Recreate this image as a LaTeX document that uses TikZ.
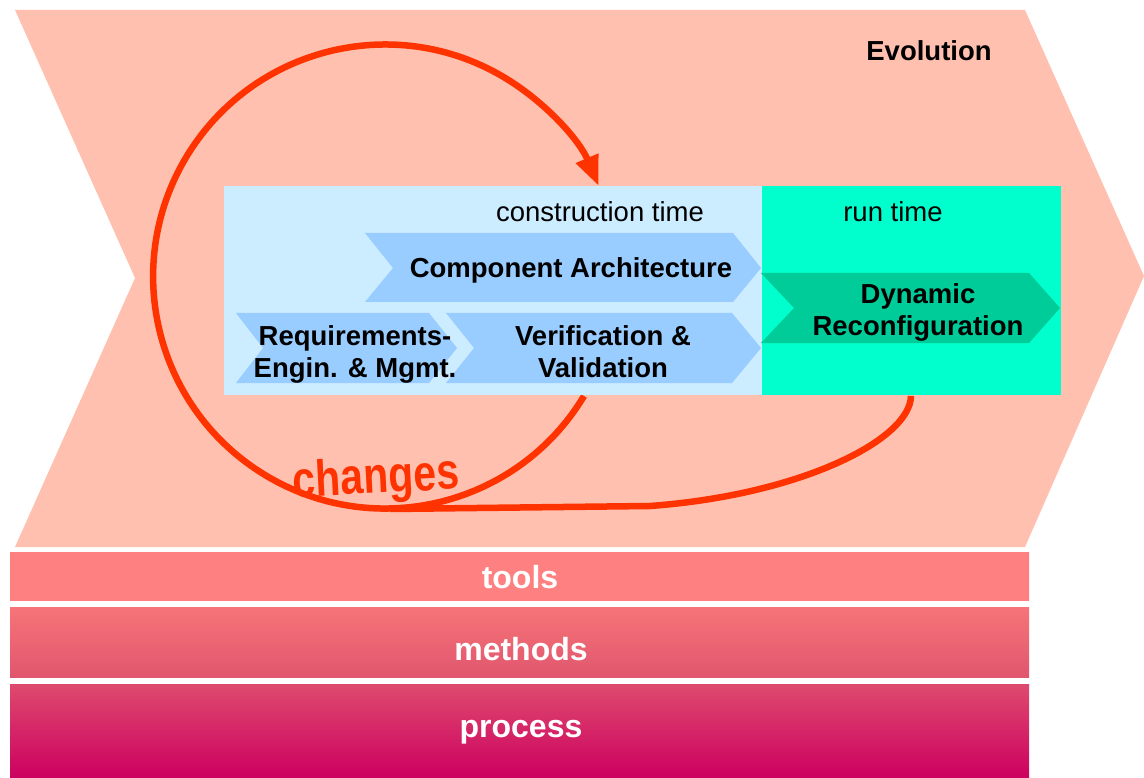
\documentclass[tikz,border=0pt]{standalone}
\usepackage{fontspec}
\setmainfont{Liberation Sans}
\usetikzlibrary{arrows.meta,calc}

\definecolor{evofill}{HTML}{FFC0B0}
\definecolor{constrblue}{HTML}{CCECFF}
\definecolor{runcyan}{HTML}{00FFCC}
\definecolor{chevblue}{HTML}{99CCFF}
\definecolor{chevgreen}{HTML}{00CC99}
\definecolor{changered}{HTML}{FF3300}

\begin{document}
\begin{tikzpicture}[x=1pt,y=-1pt,
    boldtext/.style={font=\fontsize{27.5}{32}\selectfont\bfseries, align=center},
    plaintext/.style={font=\fontsize{27.5}{32}\selectfont},
    layertext/.style={font=\fontsize{32}{36}\selectfont\bfseries, text=white, anchor=base},
    changeline/.style={line width=6.5pt, draw=changered},
    areabox/.style={inner sep=0pt, anchor=north west}]
    \useasboundingbox (0,0) rectangle (1144,778);
    % Evolution
    \fill[evofill] (15,10) -- (1025,10) -- (1144,276) -- (1025,547) -- (15,547) -- (135,278) -- cycle;
    \node[boldtext, anchor=base] (evo) at (929,61) {Evolution};
    % changes loop
    \coordinate (loopstart) at (584,396);
    \coordinate (branchstart) at (911,396);
    \coordinate (branchend) at (390,509);
    \draw[changeline, -{Triangle[length=30pt,width=23pt]}] (loopstart) arc[start angle=-31, end angle=-337, radius=232pt];
    \draw[changeline] (branchstart) .. controls (910,440) and (800,495) .. (650,506) -- (branchend);
    % construction / run time
    \node[areabox, fill=constrblue, minimum width=538pt, minimum height=209pt] (construct) at (224,186) {};
    \node[areabox, fill=runcyan, minimum width=299pt, minimum height=209pt] (run) at (762,186) {};
    \node[plaintext, anchor=base] (ctime) at (600,222) {construction time};
    \node[plaintext, anchor=base] (rtime) at (893,222) {run time};
    % chevrons
    \fill[chevblue] (365,233) -- (733,233) -- (761,268) -- (733,302) -- (365,302) -- (393,268) -- cycle;
    \fill[chevblue] (236,313) -- (429,313) -- (457,348) -- (429,383) -- (236,383) -- (263,348) -- cycle;
    \fill[chevblue] (446,313) -- (732,313) -- (761,348) -- (732,383) -- (446,383) -- (474,348) -- cycle;
    \fill[chevgreen] (761,273) -- (1029,273) -- (1060,308) -- (1029,343) -- (761,343) -- (794,308) -- cycle;
    \node[boldtext, anchor=base] (comp) at (571,278) {Component Architecture};
    \node[boldtext, anchor=base] (req) at (355,377) {Requirements-\\Engin. \& Mgmt.};
    \node[boldtext, anchor=base] (verif) at (603,377) {Verification \&\\Validation};
    \node[boldtext, anchor=base] (dyn) at (918,335) {Dynamic\\Reconfiguration};
    \node[font=\fontsize{41}{46}\selectfont\bfseries, text=changered, anchor=base, rotate=3, yscale=1.24] (changes) at (377,493) {changes};
    % layers
    \node[areabox, minimum width=1019pt, minimum height=48pt, top color=red!50!white, bottom color=red!50!white] (toolsbar) at (10,552) {};
    \node[areabox, minimum width=1019pt, minimum height=70pt, top color={rgb,255:red,247;green,116;blue,120}, bottom color={rgb,255:red,224;green,86;blue,110}] (methodsbar) at (10,607) {};
    \node[areabox, minimum width=1019pt, minimum height=94pt, top color={rgb,255:red,222;green,74;blue,110}, bottom color={rgb,255:red,204;green,0;blue,96}] (processbar) at (10,684) {};
    \node[layertext] (tools) at (520,588) {tools};
    \node[layertext] (methods) at (521,660) {methods};
    \node[layertext] (process) at (521,737) {process};
\end{tikzpicture}
\end{document}
